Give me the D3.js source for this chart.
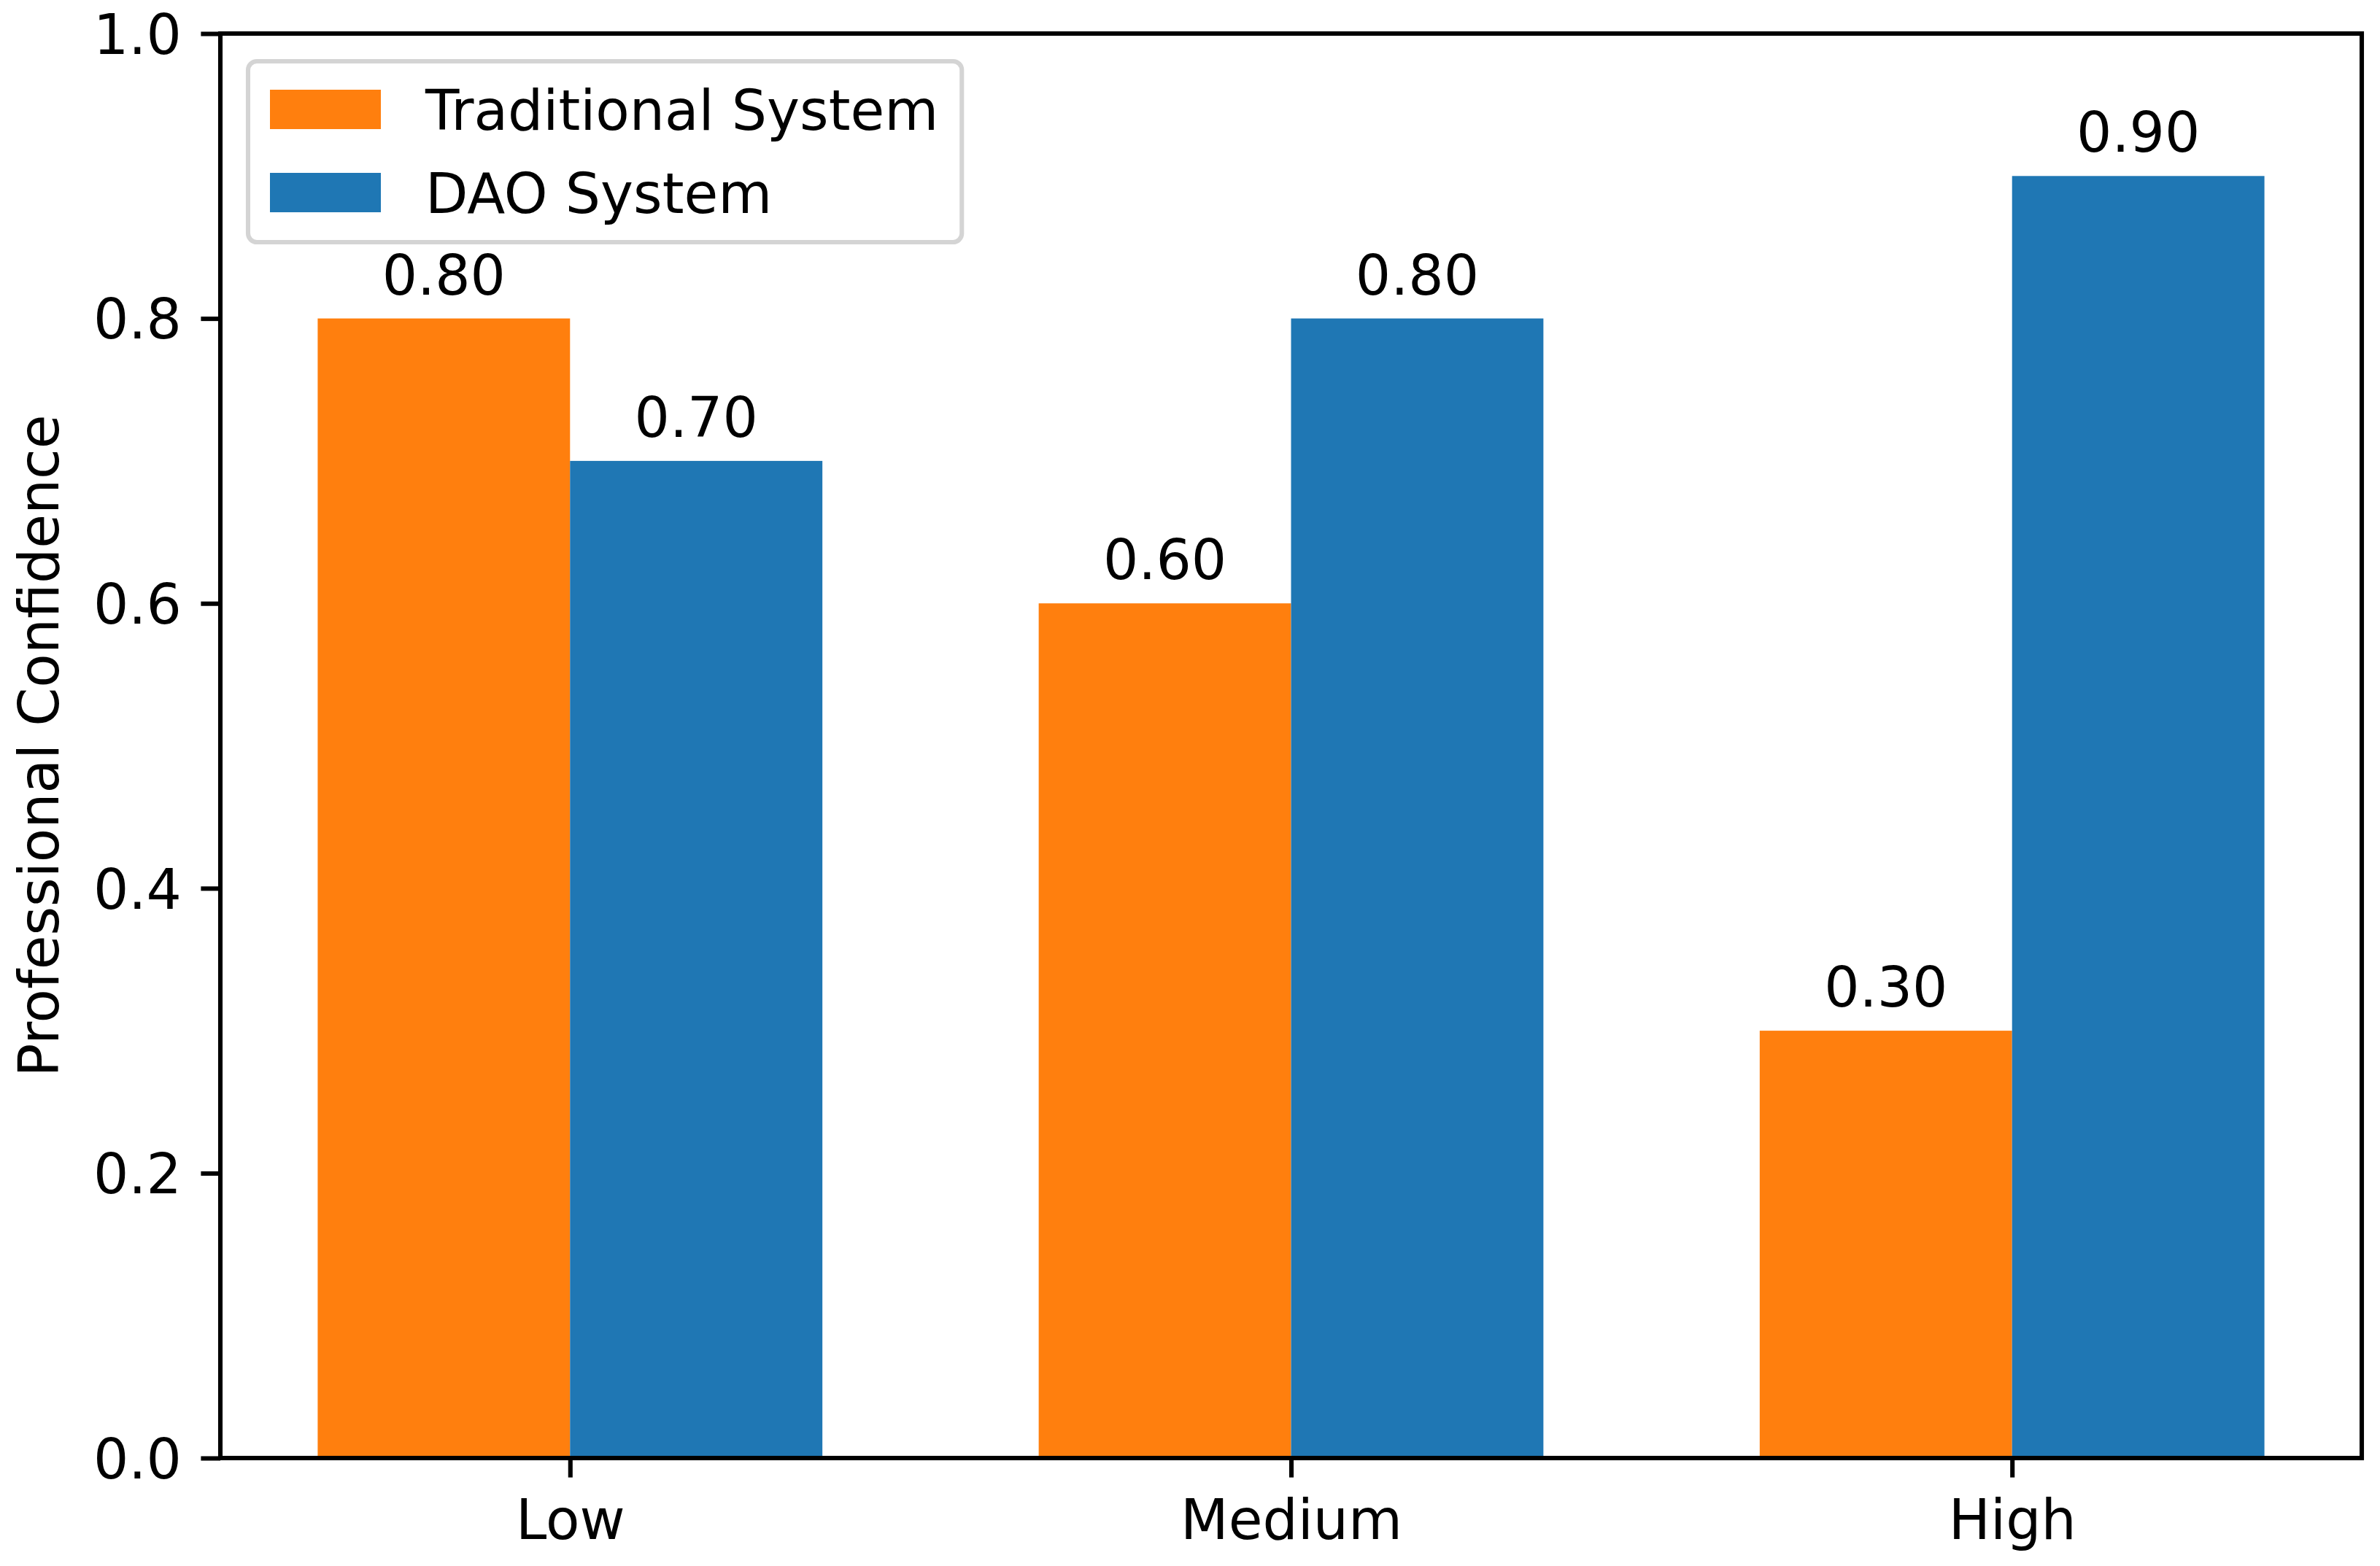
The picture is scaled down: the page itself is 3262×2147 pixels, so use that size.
<!DOCTYPE html>
<html>
<head>
<meta charset="utf-8">
<script src="https://cdn.jsdelivr.net/npm/d3@7"></script>
<style>
  body { margin: 0; background: #fff; }
  text { font-family: "DejaVu Sans", sans-serif; fill: #000; }
</style>
</head>
<body>
<svg id="chart" width="3262" height="2147"></svg>
<script>
// data
const categories = ['Low', 'Medium', 'High'];
const seriesNames = ['Traditional System', 'DAO System'];
const traditional = [0.80, 0.60, 0.30];
const dao = [0.70, 0.80, 0.90];
const yTicks = [0.0, 0.2, 0.4, 0.6, 0.8, 1.0];

const colors = ['#ff7f0e', '#1f77b4'];
const fontSize = 76;
const pt = fontSize / 10; // 1 point in px

const svg = d3.select('#chart');
const width = +svg.attr('width');
const height = +svg.attr('height');
const margin = { top: 46, right: 25, bottom: 148, left: 302 };
const innerWidth = width - margin.left - margin.right;
const innerHeight = height - margin.top - margin.bottom;

const barWidth = 0.35;
const xScale = d3.scaleLinear()
  .domain([-0.485, categories.length - 1 + 0.485])
  .range([0, innerWidth]);
const yScale = d3.scaleLinear()
  .domain([0, 1])
  .range([innerHeight, 0]);

const g = svg.append('g')
  .attr('transform', `translate(${margin.left},${margin.top})`);

// bars
const series = [traditional, dao];
series.forEach((values, s) => {
  const offset = (s - 0.5) * barWidth;
  g.selectAll(`.bar-${s}`).data(values).enter().append('rect')
    .attr('class', `bar-${s}`)
    .attr('x', (d, i) => xScale(i + offset - barWidth / 2))
    .attr('width', xScale(barWidth) - xScale(0))
    .attr('y', d => yScale(d))
    .attr('height', d => innerHeight - yScale(d))
    .attr('fill', colors[s]);

  g.selectAll(`.label-${s}`).data(values).enter().append('text')
    .attr('class', `label-${s}`)
    .attr('x', (d, i) => xScale(i + offset))
    .attr('y', d => yScale(d) - 33)
    .attr('text-anchor', 'middle')
    .attr('font-size', fontSize)
    .text(d => d.toFixed(2));
});

// axes
const tickLen = 3.5 * pt;
const tickPad = 3.5 * pt;

const yAxis = d3.axisLeft(yScale)
  .tickValues(yTicks)
  .tickFormat(d3.format('.1f'))
  .tickSize(tickLen)
  .tickPadding(tickPad);
const yAxisG = g.append('g').call(yAxis);
yAxisG.select('.domain').remove();
yAxisG.selectAll('line').attr('stroke', '#000').attr('stroke-width', 0.8 * pt);
yAxisG.selectAll('text')
  .attr('font-size', fontSize)
  .attr('font-family', '"DejaVu Sans", sans-serif')
  .attr('dy', '0.36em');

const xAxis = d3.axisBottom(xScale)
  .tickValues(d3.range(categories.length))
  .tickFormat(i => categories[i])
  .tickSize(tickLen)
  .tickPadding(tickPad);
const xAxisG = g.append('g')
  .attr('transform', `translate(0,${innerHeight})`)
  .call(xAxis);
xAxisG.select('.domain').remove();
xAxisG.selectAll('line').attr('stroke', '#000').attr('stroke-width', 0.8 * pt);
xAxisG.selectAll('text')
  .attr('font-size', fontSize)
  .attr('font-family', '"DejaVu Sans", sans-serif')
  .attr('dy', '0.76em');

// spines
g.append('rect')
  .attr('x', 0).attr('y', 0)
  .attr('width', innerWidth).attr('height', innerHeight)
  .attr('fill', 'none')
  .attr('stroke', '#000')
  .attr('stroke-width', 0.8 * pt);

// y label
svg.append('text')
  .attr('transform', `translate(80,${margin.top + innerHeight / 2}) rotate(-90)`)
  .attr('text-anchor', 'middle')
  .attr('font-size', fontSize)
  .text('Professional Confidence');

// legend
const legendG = g.append('g').attr('transform', 'translate(38,38)');
const legendBox = legendG.append('rect')
  .attr('rx', 12).attr('ry', 12)
  .attr('fill', '#fff')
  .attr('fill-opacity', 0.8)
  .attr('stroke', '#d4d4d4')
  .attr('stroke-width', 0.8 * pt);
const rowY = [66, 180];
const items = legendG.selectAll('.legend-item').data(seriesNames).enter().append('g')
  .attr('class', 'legend-item')
  .attr('transform', (d, i) => `translate(0,${rowY[i]})`);
items.append('rect')
  .attr('x', 30).attr('y', -27)
  .attr('width', 152).attr('height', 54)
  .attr('fill', (d, i) => colors[i]);
items.append('text')
  .attr('x', 243).attr('y', 28)
  .attr('font-size', fontSize)
  .text(d => d);
let maxW = 0;
items.selectAll('text').each(function () {
  maxW = Math.max(maxW, this.getComputedTextLength());
});
legendBox
  .attr('x', 0).attr('y', 0)
  .attr('width', 243 + maxW + 32)
  .attr('height', 248);
</script>
</body>
</html>
